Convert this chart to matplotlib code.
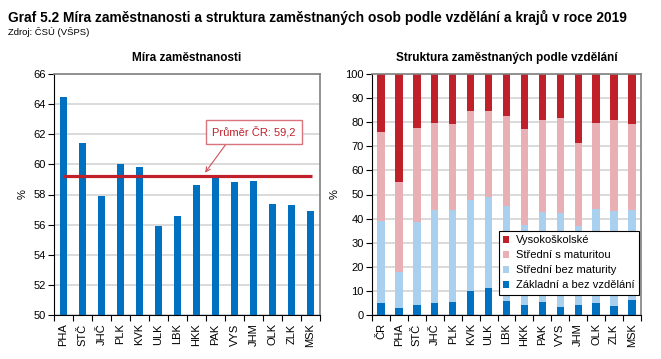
import matplotlib
matplotlib.use("Agg")
import matplotlib.pyplot as plt
import numpy as np
from matplotlib.patches import Patch

plt.rcParams['font.family'] = ['Liberation Sans', 'DejaVu Sans']

# ---- data ----
regions_left = ["PHA", "STČ", "JHČ", "PLK", "KVK", "ULK", "LBK", "HKK", "PAK",
                "VYS", "JHM", "OLK", "ZLK", "MSK"]
employment_rate = [64.5, 61.4, 57.9, 60.0, 59.8, 55.9, 56.6, 58.6, 59.1,
                   58.8, 58.9, 57.4, 57.3, 56.9]
avg_cr = 59.2
avg_label = "Průměr ČR: 59,2"

regions_right = ["ČR", "PHA", "STČ", "JHČ", "PLK", "KVK", "ULK", "LBK", "HKK",
                 "PAK", "VYS", "JHM", "OLK", "ZLK", "MSK"]
zakladni = [5.0, 2.9, 4.0, 5.0, 5.5, 9.9, 11.0, 5.7, 4.0, 5.3, 3.5, 4.0, 4.8, 3.7, 6.2]
stredni_bez = [33.9, 15.0, 34.6, 38.6, 37.9, 38.0, 38.0, 39.4, 33.2, 37.6, 38.9, 33.0, 39.2, 39.3, 37.4]
stredni_s = [37.0, 37.4, 39.1, 36.1, 36.0, 36.7, 35.6, 37.5, 40.0, 38.1, 39.3, 34.3, 35.6, 37.8, 35.7]
vysokoskolske = [24.1, 44.7, 22.3, 20.3, 20.6, 15.4, 15.4, 17.4, 22.8, 19.0, 18.3, 28.7, 20.4, 19.2, 20.7]

series_names = ["Základní a bez vzdělání", "Střední bez maturity",
                "Střední s maturitou", "Vysokoškolské"]

title = "Graf 5.2 Míra zaměstnanosti a struktura zaměstnaných osob podle vzdělání a krajů v roce 2019"
source = "Zdroj: ČSÚ (VŠPS)"
title_left = "Míra zaměstnanosti"
title_right = "Struktura zaměstnaných podle vzdělání"

# ---- styles ----
BLUE = "#0070C0"
LIGHTBLUE = "#A9D0EE"
PINK = "#E8AFB4"
DARKRED = "#C0202A"
GRID = "#D4D4D4"
FRAME_GRAY = "#808080"

fig = plt.figure(figsize=(6.61, 3.59), dpi=100)
W, H = 661, 359

def axrect(x0, x1, ytop, ybot):
    return [x0 / W, 1 - ybot / H, (x1 - x0) / W, (ybot - ytop) / H]

fig.text(8 / W, 1 - 17 / H, title, fontsize=9.9, fontweight='bold',
         ha='left', va='center')
fig.text(8 / W, 1 - 32 / H, source, fontsize=6.8, ha='left', va='center')

def style_axes(ax, n):
    ax.set_xlim(-0.5, n - 0.5)
    for s in ['left', 'bottom']:
        ax.spines[s].set_color('black')
        ax.spines[s].set_linewidth(0.8)
    for s in ['top', 'right']:
        ax.spines[s].set_color(FRAME_GRAY)
        ax.spines[s].set_linewidth(1.2)
    ax.grid(axis='y', color=GRID, linewidth=1.2)
    ax.set_axisbelow(True)
    ax.tick_params(axis='y', direction='out', length=4, width=0.8, labelsize=8, pad=2)
    ax.set_xticks(np.arange(n))
    ax.set_xticks(np.arange(n + 1) - 0.5, minor=True)
    ax.tick_params(axis='x', which='major', length=0, pad=6, labelsize=8)
    ax.tick_params(axis='x', which='minor', direction='out', length=4, width=0.8)

# ---- left chart ----
ax1 = fig.add_axes(axrect(54, 320, 74, 315))
x1 = np.arange(len(regions_left))
ax1.bar(x1, employment_rate, width=0.42, color=BLUE, bottom=0, zorder=2)
ax1.set_ylim(50, 66)
ax1.set_yticks(np.arange(50, 67, 2))
style_axes(ax1, len(regions_left))
ax1.set_xticklabels(regions_left, rotation=90, ha='center', va='top')
ax1.hlines(avg_cr, -0.05, len(regions_left) - 1 + 0.08, color=DARKRED,
           linewidth=2.3, zorder=3)
ax1.annotate(avg_label, xy=(7.45, avg_cr + 0.25), xytext=(10.03, 62.15),
             ha='center', va='center', fontsize=8, color=DARKRED,
             bbox=dict(boxstyle='square,pad=0.55', fc='white', ec='#D9737C', lw=1.0),
             arrowprops=dict(arrowstyle='->', color='#D0505C', lw=0.8,
                             relpos=(0.22, 0.0), shrinkA=0, shrinkB=0),
             zorder=4)
ax1.set_ylabel('%', fontsize=8, labelpad=4)
fig.text((54 + 320) / 2 / W, 1 - 58 / H, title_left, fontsize=8.5,
         fontweight='bold', ha='center', va='center')

# ---- right chart ----
ax2 = fig.add_axes(axrect(372, 641, 74, 315))
x2 = np.arange(len(regions_right))
stack = [zakladni, stredni_bez, stredni_s, vysokoskolske]
colors = [BLUE, LIGHTBLUE, PINK, DARKRED]
bottom = np.zeros(len(regions_right))
for vals, c, name in zip(stack, colors, series_names):
    ax2.bar(x2, vals, width=0.41, bottom=bottom, color=c, zorder=2, label=name)
    bottom = bottom + np.array(vals)
ax2.set_ylim(0, 100)
ax2.set_yticks(np.arange(0, 101, 10))
style_axes(ax2, len(regions_right))
ax2.set_xticklabels(regions_right, rotation=90, ha='center', va='top')
ax2.set_ylabel('%', fontsize=8, labelpad=4)
fig.text((372 + 641) / 2 / W, 1 - 58 / H, title_right, fontsize=8.5,
         fontweight='bold', ha='center', va='center')

handles = [Patch(facecolor=c, edgecolor='none') for c in colors][::-1]
labels = series_names[::-1]
leg = ax2.legend(handles, labels, loc='upper right',
                 bbox_to_anchor=(0.993, 0.3485), fontsize=8,
                 frameon=True, fancybox=False, framealpha=1, edgecolor='black',
                 handlelength=0.55, handleheight=0.55, handletextpad=0.6,
                 labelspacing=0.45, borderpad=0.4, borderaxespad=0)
leg.get_frame().set_linewidth(0.8)
leg.set_zorder(5)

fig.savefig("out.png", dpi=100)
